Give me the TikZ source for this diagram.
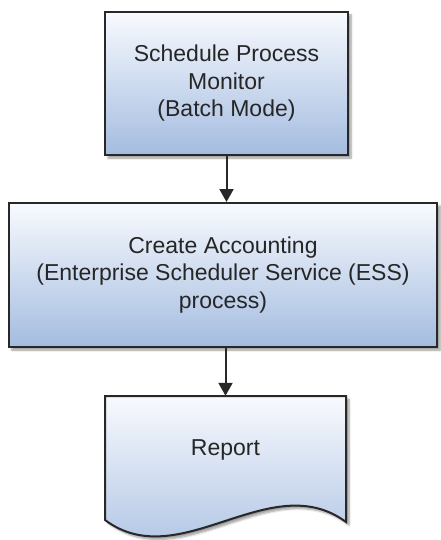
\documentclass[tikz,border=0pt]{standalone}
\usepackage{fontspec}
\setmainfont{Liberation Sans}
\usetikzlibrary{arrows.meta,shadows.blur}
\definecolor{boxtop}{RGB}{248,250,254}
\definecolor{boxbot}{RGB}{164,188,224}
\definecolor{edge}{RGB}{40,40,40}
\begin{document}
\begin{tikzpicture}[x=1pt,y=-1pt,
  procbox/.style={rectangle, draw=edge, line width=2pt, top color=boxtop, bottom color=boxbot,
    blur shadow={shadow xshift=3pt, shadow yshift=-3pt, shadow blur steps=6, shadow opacity=40},
    align=center, text=black!85, inner sep=0pt,
    font=\fontsize{23}{27.5}\selectfont},
  flow/.style={draw=edge, line width=2pt, -{Triangle[width=14pt,length=13pt]}},
  lbl/.style={text=black!85, font=\fontsize{23}{27.5}\selectfont}]
\useasboundingbox (0,0) rectangle (440,540);
\node[procbox, minimum width=243pt, minimum height=143pt] (b1) at (226.5,83.5)
  {Schedule Process\\Monitor\\(Batch Mode)};
\node[procbox, minimum width=428pt, minimum height=144pt] (b2) at (223,275)
  {Create Accounting\\(Enterprise Scheduler Service (ESS)\\process)};
% document shape
\path[draw=edge, line width=2pt, top color=boxtop, bottom color=boxbot,
    blur shadow={shadow xshift=3pt, shadow yshift=-3pt, shadow blur steps=6, shadow opacity=40}]
  (105,396) -- (346,396) -- (346,522)
  .. controls (270,466) and (180,576) .. (105,520) -- cycle;
\node[minimum width=241pt, minimum height=126pt, inner sep=0pt] (rep) at (225.5,459) {};
\node[lbl] (replbl) at (225.5,450) {Report};
\draw[flow] (b1.south) -- (b1.south |- b2.north);
\draw[flow] (b2.south -| rep.north) -- (rep.north);
\end{tikzpicture}
\end{document}
